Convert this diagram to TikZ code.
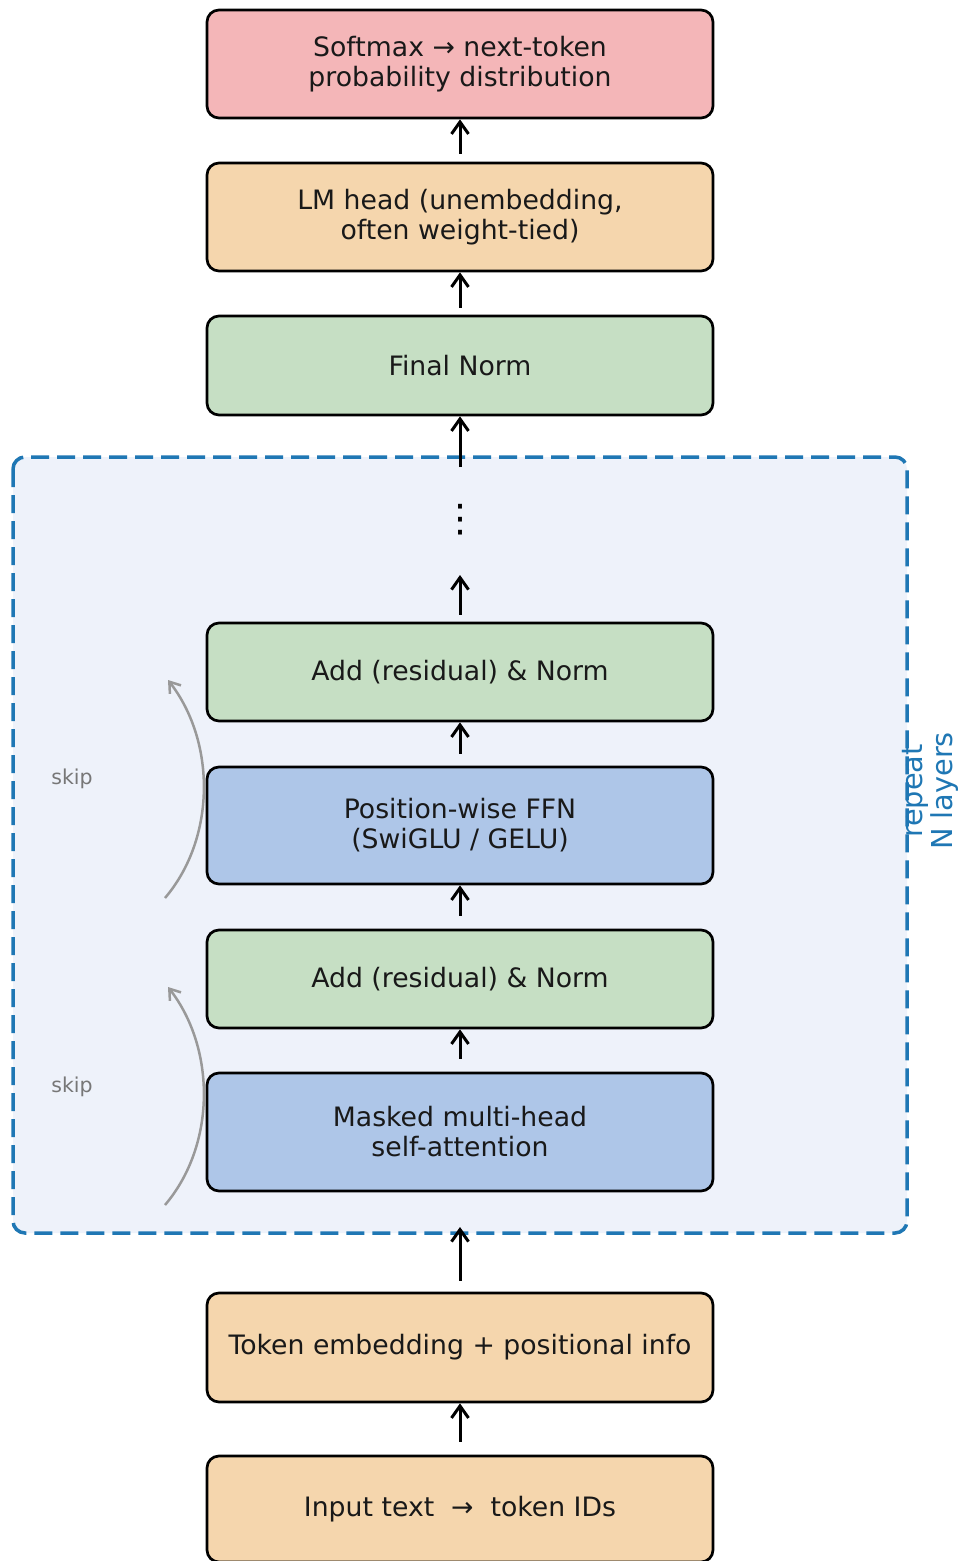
\documentclass[tikz,border=0pt]{standalone}
\usepackage{fontspec}
\setmainfont{DejaVu Sans}
\usetikzlibrary{arrows.meta}
\definecolor{cpink}{HTML}{F4B6B8}
\definecolor{corange}{HTML}{F5D6AD}
\definecolor{cgreen}{HTML}{C6DFC4}
\definecolor{cblue}{HTML}{AEC6E8}
\definecolor{cfill}{HTML}{EEF2FA}
\definecolor{cdash}{HTML}{1F77B4}
\definecolor{cskip}{HTML}{999999}
\definecolor{cskiptext}{HTML}{777777}
\tikzset{
  box/.style={draw=black, line width=2.7pt, rounded corners=12pt,
    minimum width=506pt, inner sep=0pt, align=center,
    font=\fontsize{26.7}{30}\selectfont, text=black!90},
  arr/.style={draw=black, line width=3pt, -{Straight Barb[length=12pt,width=17pt,line width=3pt]}},
  skiparr/.style={draw=cskip, line width=2.5pt, -{Straight Barb[length=10pt,width=14pt,line width=2.5pt]}},
  skiplabel/.style={text=cskiptext, font=\fontsize{20.5}{24}\selectfont},
  container/.style={draw=cdash, fill=cfill, line width=3.5pt, rounded corners=12pt,
    dash pattern=on 18pt off 8pt}
}
\begin{document}
\begin{tikzpicture}[x=1pt,y=-1pt]
\useasboundingbox (0,0) rectangle (963,1561);
\fill[white] (0,0) rectangle (963,1561);
% container
\draw[container] (13,457) rectangle (907,1233);
\coordinate (contS) at (460,1227);
\coordinate (contN) at (460,467);
% boxes
\node[box, fill=cpink, minimum height=108pt] (soft) at (460,64) {Softmax → next-token\\probability distribution};
\node[box, fill=corange, minimum height=108pt] (lm) at (460,217) {LM head (unembedding,\\often weight-tied)};
\node[box, fill=cgreen, minimum height=99pt] (fn) at (460,365.5) {Final Norm};
\node[box, fill=cgreen, minimum height=98pt] (an2) at (460,672) {Add (residual) \& Norm};
\node[box, fill=cblue, minimum height=117pt] (ffn) at (460,825.5) {Position-wise FFN\\(SwiGLU / GELU)};
\node[box, fill=cgreen, minimum height=98pt] (an1) at (460,979) {Add (residual) \& Norm};
\node[box, fill=cblue, minimum height=118pt] (mha) at (460,1132) {Masked multi-head\\self-attention};
\node[box, fill=corange, minimum height=109pt] (tok) at (460,1347.5) {Token embedding + positional info};
\node[box, fill=corange, minimum height=106pt] (inp) at (460,1509) {Input text \ → \ token IDs};
% dots
\node[font=\fontsize{38}{40}\selectfont, inner sep=0pt] (dots) at (460,520) {⋮};
\coordinate (dotsS) at (460,575);
% arrows
\draw[arr] ([yshift=13pt]inp.north) -- (tok.south);
\draw[arr] ([yshift=11pt]tok.north) -- (contS);
\draw[arr] ([yshift=13pt]mha.north) -- (an1.south);
\draw[arr] ([yshift=13pt]an1.north) -- (ffn.south);
\draw[arr] ([yshift=12pt]ffn.north) -- (an2.south);
\draw[arr] ([yshift=7pt]an2.north) -- (dotsS);
\draw[arr] (contN) -- (fn.south);
\draw[arr] ([yshift=7pt]fn.north) -- (lm.south);
\draw[arr] ([yshift=8pt]lm.north) -- (soft.south);
% skip arrows
\coordinate (s1a) at (165,898);
\coordinate (s1b) at (168,680);
\coordinate (s2a) at (165,1205);
\coordinate (s2b) at (168,987);
\draw[skiparr] (s1a) .. controls (216,838) and (216,742) .. (s1b);
\draw[skiparr] (s2a) .. controls (216,1145) and (216,1049) .. (s2b);
\node[skiplabel] (skip1) at (72,779) {skip};
\node[skiplabel] (skip2) at (72,1087) {skip};
% repeat label
\node[rotate=90, align=center, text=cdash, font=\fontsize{28.8}{30}\selectfont, inner sep=0pt] (rep) at (930,791) {repeat\\N layers};
\end{tikzpicture}
\end{document}
